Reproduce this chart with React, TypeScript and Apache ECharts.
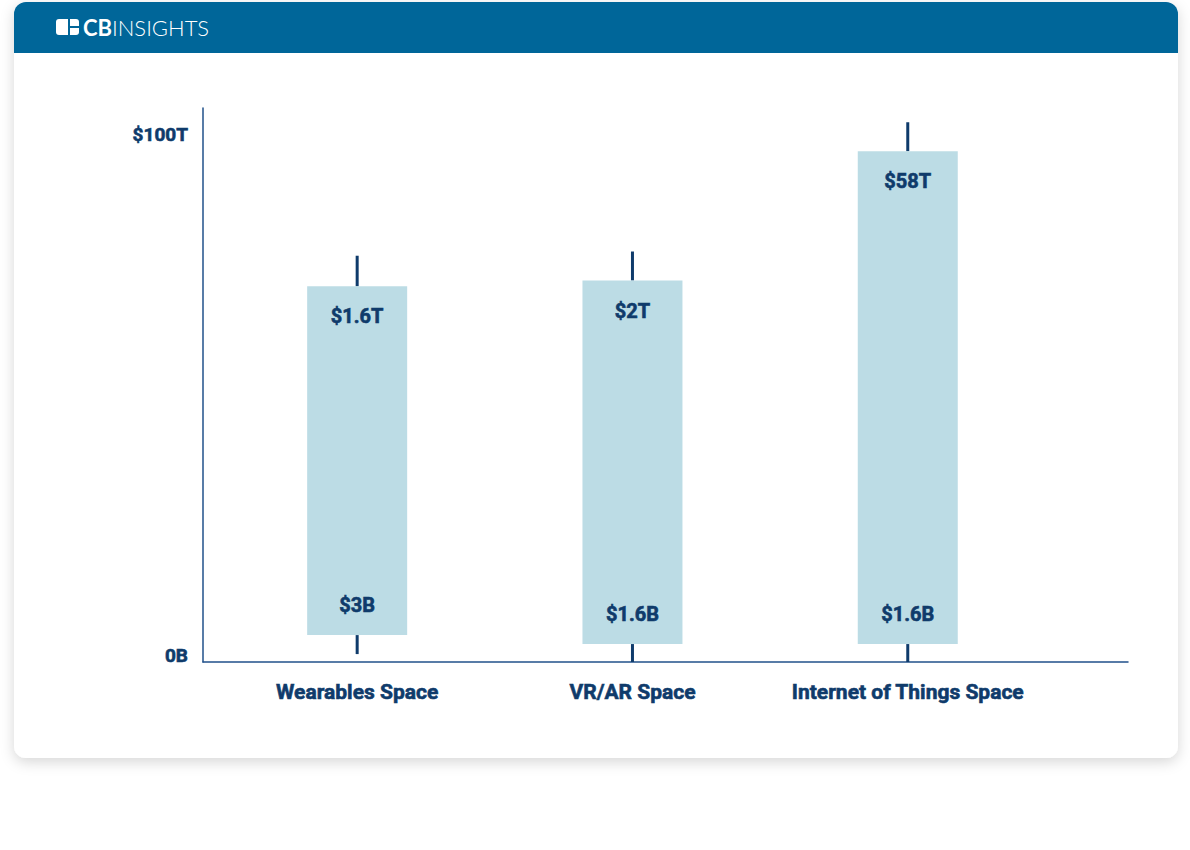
import React, { useEffect, useRef } from "react";
import * as echarts from "echarts";

// Categories and values (positions on the chart's 0–100 display scale: 0B … $100T)
const categories = ["Wearables Space", "VR/AR Space", "Internet of Things Space"];
const lowValues = [1.5, 0, 0];
const openValues = [5.1, 3.4, 3.4];
const closeValues = [71.2, 72.3, 96.8];
const highValues = [77.0, 77.8, 102.3];
const lowLabels = ["$3B", "$1.6B", "$1.6B"];
const highLabels = ["$1.6T", "$2T", "$58T"];
const yTickValues = [0, 100];
const yTickLabels = ["0B", "$100T"];

const NAVY = "#0f3b6b";
const AXIS = "#21508a";
const BOX = "#bcdce5";
const HEADER = "#006699";
const FONT = "Roboto, 'Noto Sans', sans-serif";

export default function App() {
  const ref = useRef<HTMLDivElement>(null);

  useEffect(() => {
    if (!ref.current) return;
    const chart = echarts.init(ref.current, undefined, { renderer: "svg" });

    const data = categories.map((_, i) => [
      i,
      openValues[i],
      closeValues[i],
      lowValues[i],
      highValues[i],
    ]);

    const textStyle = (text: string) => ({
      text,
      fill: NAVY,
      fontSize: 20,
      fontWeight: "bold",
      fontFamily: FONT,
      align: "center",
      verticalAlign: "middle",
      stroke: NAVY,
      lineWidth: 0.6,
    });

    const option: any = {
      animation: false,
      backgroundColor: "#ffffff",
      graphic: [
        {
          type: "rect",
          z: -10,
          shape: { x: 14, y: 2, width: 1164, height: 756, r: 12 },
          style: {
            fill: "#ffffff",
            shadowBlur: 14,
            shadowColor: "rgba(0,0,0,0.16)",
            shadowOffsetY: 4,
          },
          silent: true,
        },
        {
          type: "rect",
          z: -9,
          shape: { x: 14, y: 2, width: 1164, height: 51, r: [12, 12, 0, 0] },
          style: { fill: HEADER },
          silent: true,
        },
        {
          type: "rect",
          z: -8,
          shape: { x: 56, y: 19, width: 12, height: 16, r: [3, 0, 0, 3] },
          style: { fill: "#ffffff" },
        },
        {
          type: "rect",
          z: -8,
          shape: { x: 70, y: 19, width: 9, height: 7, r: [0, 3, 0, 0] },
          style: { fill: "#ffffff" },
        },
        {
          type: "rect",
          z: -8,
          shape: { x: 70, y: 28, width: 9, height: 7, r: [0, 0, 3, 0] },
          style: { fill: "#ffffff" },
        },
        {
          type: "text",
          z: -8,
          x: 83,
          y: 27,
          style: {
            text: "{b|CB}{l|INSIGHTS}",
            verticalAlign: "middle",
            rich: {
              b: {
                fill: "#ffffff",
                fontSize: 22,
                fontWeight: "bold",
                fontFamily: "Lato, 'Noto Sans', sans-serif",
              },
              l: {
                fill: "#ffffff",
                fontSize: 22,
                fontWeight: 300,
                fontFamily: "Lato, 'Noto Sans', sans-serif",
              },
            },
          },
        },
      ],
      grid: { left: 203, right: 62, top: 108, bottom: 188, containLabel: false },
      xAxis: {
        type: "value",
        min: -0.56,
        max: 2.8,
        axisLine: { show: true, onZero: false, lineStyle: { color: AXIS, width: 1.5 } },
        axisTick: { show: false },
        splitLine: { show: false },
        axisLabel: {
          customValues: [0, 1, 2],
          formatter: (v: number) => categories[Math.round(v)] ?? "",
          color: NAVY,
          fontSize: 21,
          fontWeight: "bold",
          fontFamily: FONT,
          margin: 19,
          textBorderColor: NAVY,
          textBorderWidth: 0.6,
        },
      },
      yAxis: {
        type: "value",
        min: 0,
        max: 105,
        axisLine: { show: true, onZero: false, lineStyle: { color: AXIS, width: 1.5 } },
        axisTick: { show: false },
        splitLine: { show: false },
        axisLabel: {
          customValues: yTickValues,
          formatter: (v: number) => {
            const idx = yTickValues.indexOf(v);
            const t = idx >= 0 ? yTickLabels[idx] : "";
            return v === 0 ? `{z|${t}}` : t;
          },
          color: NAVY,
          fontSize: 19,
          fontWeight: "bold",
          fontFamily: FONT,
          margin: 15,
          textBorderColor: NAVY,
          textBorderWidth: 0.6,
          rich: {
            z: {
              color: NAVY,
              fontSize: 19,
              fontWeight: "bold",
              fontFamily: FONT,
              textBorderColor: NAVY,
              textBorderWidth: 0.6,
              padding: [0, 0, 14, 0],
            },
          },
        },
      },
      series: [
        {
          type: "custom",
          coordinateSystem: "cartesian2d",
          encode: { x: 0, y: [1, 2, 3, 4] },
          data,
          clip: false,
          renderItem: (params: any, api: any) => {
            const i = params.dataIndex;
            const x = api.value(0);
            const o = api.coord([x, api.value(1)]);
            const c = api.coord([x, api.value(2)]);
            const l = api.coord([x, api.value(3)]);
            const h = api.coord([x, api.value(4)]);
            const w = 100;
            return {
              type: "group",
              children: [
                {
                  type: "line",
                  shape: { x1: o[0], y1: o[1], x2: l[0], y2: l[1] },
                  style: { stroke: NAVY, lineWidth: 3 },
                },
                {
                  type: "line",
                  shape: { x1: c[0], y1: c[1], x2: h[0], y2: h[1] },
                  style: { stroke: NAVY, lineWidth: 3 },
                },
                {
                  type: "rect",
                  shape: { x: c[0] - w / 2, y: c[1], width: w, height: o[1] - c[1] },
                  style: { fill: BOX },
                },
                {
                  type: "text",
                  x: c[0],
                  y: c[1] + 30,
                  style: textStyle(highLabels[i]),
                },
                {
                  type: "text",
                  x: o[0],
                  y: o[1] - 30,
                  style: textStyle(lowLabels[i]),
                },
              ],
            };
          },
        },
      ],
    };

    chart.setOption(option);
    return () => chart.dispose();
  }, []);

  return (
    <div
      ref={ref}
      style={{ position: "fixed", left: 0, top: 0, width: 1190, height: 850, background: "#fff" }}
    />
  );
}
